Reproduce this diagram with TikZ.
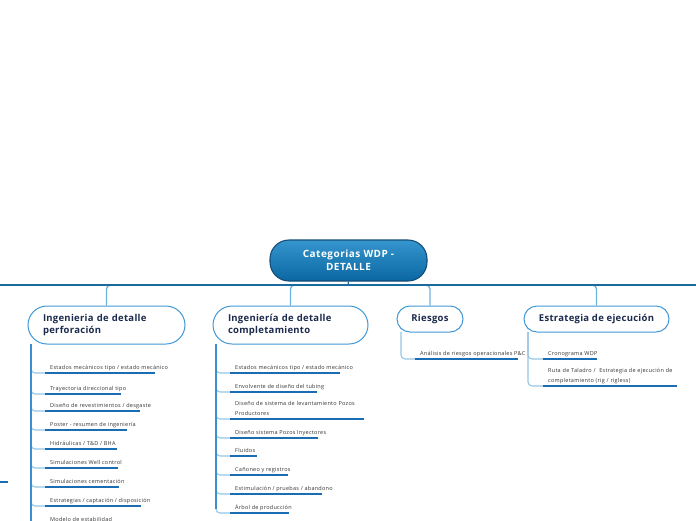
\documentclass[tikz,border=0pt]{standalone}
\usepackage{fontspec}
\setmainfont{Open Sans}
\newfontfamily\itemfont[LetterSpace=5]{Open Sans}
\newfontfamily\titlefont[LetterSpace=3]{Open Sans}
\newfontfamily\rootfont[LetterSpace=5]{Open Sans}
\definecolor{rootA}{HTML}{3595CD}
\definecolor{rootB}{HTML}{0B67A2}
\definecolor{rootdraw}{HTML}{134D78}
\definecolor{hcol}{HTML}{1A6AA0}
\definecolor{conncol}{HTML}{6DB3E0}
\definecolor{brdraw}{HTML}{4098D6}
\definecolor{brtext}{HTML}{1C2B4D}
\definecolor{vcol}{HTML}{3A8FCF}
\definecolor{curvecol}{HTML}{93C5E7}
\definecolor{ulcol}{HTML}{1A6DB3}
\definecolor{itemtext}{HTML}{333333}
\begin{document}
\begin{tikzpicture}[x=1pt,y=-1pt,
  rootbox/.style={rounded corners=19pt, draw=rootdraw, line width=1.1pt,
    top color=rootA, bottom color=rootB, minimum width=157pt, minimum height=41pt,
    inner sep=0pt, text=white, font=\rootfont\bfseries\fontsize{10}{13}\selectfont, align=center},
  branchbox/.style={draw=brdraw, line width=1pt, fill=white, text=brtext,
    font=\titlefont\bfseries\fontsize{9.5}{12.5}\selectfont, inner ysep=0pt},
  itemtxt/.style={inner sep=0pt, anchor=base west, text=itemtext,
    font=\itemfont\fontsize{5.5}{9.5}\selectfont},
  itemtwo/.style={itemtxt, text width=160pt, align=left},
  conn/.style={draw=conncol, line width=1.4pt, rounded corners=4pt},
  hline/.style={draw=hcol, line width=1.2pt},
  vline/.style={draw=vcol, line width=1.2pt},
  curve/.style={draw=curvecol, line width=1.1pt, rounded corners=4pt},
  uline/.style={draw=ulcol, line width=1.3pt}
]
\useasboundingbox (0,0) rectangle (696,520);
\clip (0,0) rectangle (696,520);

% root
\node[rootbox] (root) at (348.5,260.5) {Categorias WDP -\\DETALLE};

% branches
\node[branchbox, rounded corners=19pt, minimum width=157pt, minimum height=38pt,
  text width=127pt, inner xsep=15pt, align=left] (b1) at (106.5,325)
  {Ingenieria de detalle\\perforación};
\node[branchbox, rounded corners=19pt, minimum width=155pt, minimum height=38pt,
  text width=125pt, inner xsep=15pt, align=left] (b2) at (290.5,325)
  {Ingeniería de detalle\\completamiento};
\node[branchbox, rounded corners=13pt, minimum width=66pt, minimum height=26pt,
  inner xsep=0pt] (b3) at (430,319) {Riesgos};
\node[branchbox, rounded corners=13pt, minimum width=145pt, minimum height=26pt,
  inner xsep=0pt] (b4) at (596.5,319) {Estrategia de ejecución};

% connectors root -> branches
\coordinate (hub) at (348,285);
\draw[conn] (hub) -| (b1.north);
\draw[conn] (hub) -| (b2.north);
\draw[conn] (hub) -| (b3.north);
\draw[conn] (hub) -| (b4.north);
\draw[hline] (0,285) -- (696,285);
\draw[hline] (root.south) -- (hub);

% stray stub at left edge
\draw[uline] (0,482) -- (8,482);

% ---------- list 1 : perforacion ----------
\coordinate (v1) at (31,344);
\node[itemtxt] (p1) at (50,369) {Estados mecánicos tipo / estado mecánico};
\node[itemtxt] (p2) at (50,390) {Trayectoria direccional tipo};
\node[itemtxt] (p3) at (50,407) {Diseño de revestimientos / desgaste};
\node[itemtxt] (p4) at (50,426) {Poster - resumen de ingeniería};
\node[itemtxt] (p5) at (50,445) {Hidráulicas / T\&D / BHA};
\node[itemtxt] (p6) at (50,464) {Simulaciones Well control};
\node[itemtxt] (p7) at (50,483) {Simulaciones cementación};
\node[itemtxt] (p8) at (50,502) {Estrategias / captación / disposición};
\node[itemtxt] (p9) at (50,521) {Modelo de estabilidad};
\foreach \u/\e in {373/155,394/121,411/140,430/127,449/117,468/118,487/119,506/141,525/120}{
  \draw[curve] (v1) |- (45,\u);
  \draw[uline] (45,\u) -- (\e,\u);
}
\draw[vline] (v1) -- (31,530);

% ---------- list 2 : completamiento ----------
\coordinate (v2) at (216,344);
\node[itemtxt] (c1) at (235,369) {Estados mecánicos tipo / estado mecánico};
\node[itemtxt] (c2) at (235,388) {Envolvente de diseño del tubing};
\node[itemtwo] (c3) at (235,405.5) {Diseño de sistema de levantamiento Pozos\\Productores};
\node[itemtxt] (c4) at (235,434) {Diseño sistema Pozos Inyectores};
\node[itemtxt] (c5) at (235,452) {Fluidos};
\node[itemtxt] (c6) at (235,471) {Cañoneo y registros};
\node[itemtxt] (c7) at (235,490) {Estimulación / pruebas / abandono};
\node[itemtxt] (c8) at (235,509) {Árbol de producción};
\foreach \u/\e in {373/340,392/317,419/364,438/318,456/257,475/288,494/322,513/289}{
  \draw[curve] (v2) |- (230,\u);
  \draw[uline] (230,\u) -- (\e,\u);
}
\draw[vline] (v2) -- (216,509);

% ---------- list 3 : riesgos ----------
\coordinate (v3) at (401,332);
\node[itemtxt] (r1) at (420,355) {Análisis de riesgos operacionales P\&C};
\draw[curve] (v3) |- (415,359);
\draw[uline] (415,359) -- (518,359);

% ---------- list 4 : estrategia ----------
\coordinate (v4) at (528,332);
\node[itemtxt] (e1) at (548,355) {Cronograma WDP};
\node[itemtwo] (e2) at (548,372.5) {Ruta de Taladro /\ \ Estrategia de ejecución de\\completamiento (rig / rigless)};
\draw[curve] (v4) |- (543,359);
\draw[uline] (543,359) -- (597,359);
\draw[curve] (v4) |- (543,386);
\draw[uline] (543,386) -- (677,386);
\end{tikzpicture}
\end{document}
